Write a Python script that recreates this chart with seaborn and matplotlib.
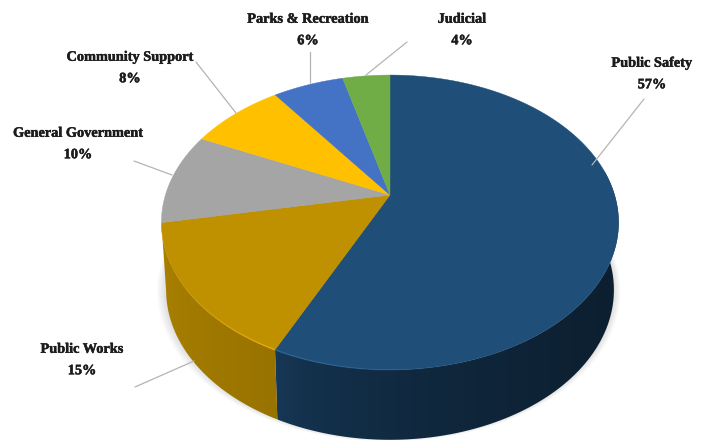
import numpy as np
import seaborn as sns
import matplotlib
matplotlib.use("Agg")
import matplotlib.pyplot as plt
import matplotlib.patheffects as pe
from matplotlib.collections import LineCollection
from matplotlib.colors import to_rgb
from matplotlib.patches import Polygon

categories = ["Public Safety", "Public Works", "General Government",
              "Community Support", "Parks & Recreation", "Judicial"]
shares = [57, 15, 10, 8, 6, 4]
slice_colors = ["#1f4e79", "#bf9000", "#a5a5a5", "#ffc000", "#4472c4", "#70ad47"]
label_centres = [(652, 74), (82, 360), (78, 144), (130, 68), (308, 30), (462, 30)]
leaders = [((644, 99), (592, 165)), ((135, 387), (194, 361)), ((134, 161), (172, 175)),
           ((196, 62), (236, 113)), ((310, 52), (310, 83)), ((407, 42), (366, 75))]
# Wall brightness at the left and right ends of each visible slice wall
wall_shade = {0: (0.74, 0.40), 1: (0.90, 0.80)}

sns.set_theme(style="white")
palette = sns.color_palette(slice_colors)

# Perspective projection of the disc: top face and bottom rim
CX, TILT = 390.0, 0.186


def project(t, centre_y, span_y, span_x):
    den = 1 + TILT * np.cos(t)
    return (CX + span_x * np.sin(t) / den,
            (centre_y + span_y * np.cos(t)) / den)


def top_face(t):
    return project(t, 195.0, -106.0, 224.6)


def bottom_rim(t):
    return project(t, 262.0, -96.0, 220.0)


fig = plt.figure(figsize=(7.01, 4.40), dpi=100, facecolor="white")
ax = fig.add_axes([0, 0, 1, 1])
ax.axis("off")

bounds = np.radians(np.concatenate([[0], np.cumsum(shares)]) * 3.6)

# Soft shadow beneath the disc
ring = np.linspace(0, 2 * np.pi, 361)
sx, sy = bottom_rim(ring)
for grow in np.linspace(8, 1, 8):
    ax.fill(CX + (sx - CX) * (1 + grow / 225) - grow * 0.15, sy + grow * 0.35 - 1,
            color="#000000", alpha=0.016, lw=0, zorder=1)

# Side wall: a horizontal brightness ramp clipped to each slice's outline
for i, (left, right) in wall_shade.items():
    lo, hi = max(bounds[i], np.radians(80)), bounds[i + 1]
    ts = np.linspace(lo, hi, 200)
    tx, ty = top_face(ts)
    bx, by = bottom_rim(ts)
    outline = np.column_stack([np.r_[tx, bx[::-1]], np.r_[ty, by[::-1]]])
    x0, x1 = outline[:, 0].min(), outline[:, 0].max()
    y0, y1 = outline[:, 1].min(), outline[:, 1].max()
    ramp = np.linspace(0, 1, 256) ** 0.5
    base = np.array(to_rgb(palette[i]))
    rgb = base[None, None, :] * (left + (right - left) * ramp)[None, :, None]
    img = ax.imshow(rgb, extent=(x0, x1, y1, y0), aspect="auto",
                    interpolation="bilinear", zorder=2)
    img.set_clip_path(Polygon(outline, closed=True, transform=ax.transData))

ax.set_xlim(0, 701)
ax.set_ylim(440, 0)

# Top face slices
for i, (a, b) in enumerate(zip(bounds[:-1], bounds[1:])):
    ts = np.linspace(a, b, 200)
    x, y = top_face(ts)
    ax.fill(np.r_[CX, x], np.r_[195.0, y], color=palette[i], lw=0.3, zorder=3)

# Bevel highlight along the front edge
for i, start, end, tone in [(0, 165, 205.2, "#2f6493"), (1, 205.2, 240, "#e6ae10")]:
    ts = np.radians(np.linspace(start, end, 80))
    x, y = top_face(ts)
    pts = np.column_stack([x, y])
    segs = np.stack([pts[:-1], pts[1:]], axis=1)
    fade = np.linspace(0, 1, len(segs)) if i == 0 else np.linspace(1, 0, len(segs))
    rgba = [(*to_rgb(tone), f) for f in fade]
    ax.add_collection(LineCollection(segs, colors=rgba, linewidths=1.0, zorder=4))

# Leader lines and labels
for (p, q) in leaders:
    ax.plot([p[0], q[0]], [p[1], q[1]], color="#b4b4b4", lw=0.9, zorder=5)

for name, share, (lx, ly) in zip(categories, shares, label_centres):
    ax.text(lx, ly, f"{name}\n{share}%", ha="center", va="center",
            family="Liberation Serif", weight="bold", fontsize=10.3,
            color="#1c1c1c", linespacing=1.85, zorder=6,
            path_effects=[pe.withStroke(linewidth=0.35, foreground="#1c1c1c")])

fig.savefig("out.png", dpi=100, facecolor="white")
